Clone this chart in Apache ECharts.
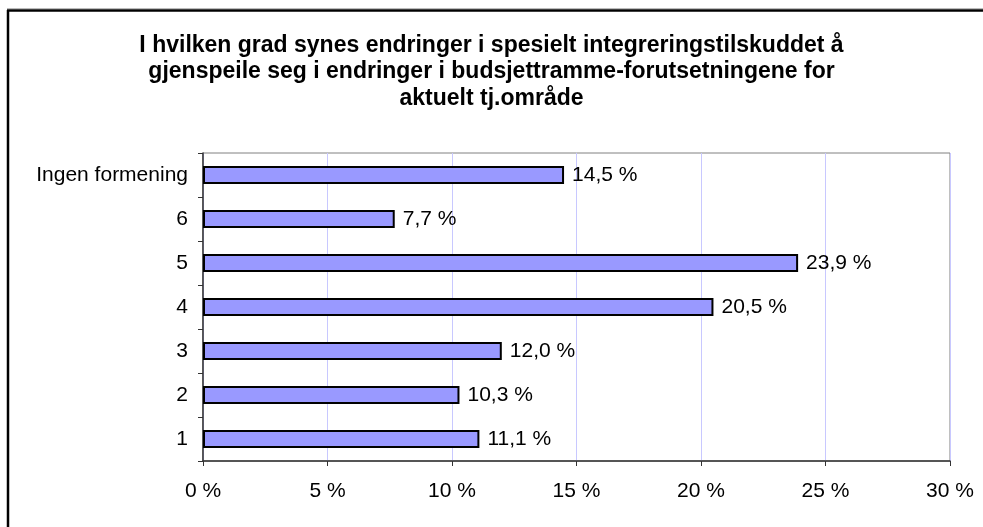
<!DOCTYPE html>
<html>
<head>
<meta charset="utf-8">
<script src="https://cdn.jsdelivr.net/npm/echarts@6/dist/echarts.min.js"></script>
<style>
    html, body { margin: 0; padding: 0; background: #fff; }
    #chart { width: 983px; height: 527px; }
</style>
</head>
<body>
<div id="chart"></div>
<script>
    // svar per kategori (andel i prosent)
    var categories = ['1', '2', '3', '4', '5', '6', 'Ingen formening'];
    var values = [11.1, 10.3, 12.0, 20.5, 23.9, 7.7, 14.5];
    var xTicks = [0, 5, 10, 15, 20, 25, 30];

    var titleText = 'I hvilken grad synes endringer i spesielt integreringstilskuddet å\n' +
        'gjenspeile seg i endringer i budsjettramme-forutsetningene for\n' +
        'aktuelt tj.område';

    var font = "'Liberation Sans', Arial, sans-serif";

    function pct(v) {
        return v.toFixed(1).replace('.', ',') + ' %';
    }

    var chart = echarts.init(document.getElementById('chart'));
    chart.setOption({
        animation: false,
        backgroundColor: '#fff',
        title: {
            text: titleText,
            left: 'center',
            top: 27,
            textStyle: {
                fontFamily: font,
                fontSize: 23,
                fontWeight: 'bold',
                color: '#000',
                lineHeight: 26.5,
                align: 'center'
            }
        },
        graphic: [
            { type: 'line', shape: { x1: 7, y1: 8.5, x2: 983, y2: 8.5 }, style: { stroke: '#bbb', lineWidth: 1 } },
            { type: 'line', shape: { x1: 7, y1: 10.5, x2: 983, y2: 10.5 }, style: { stroke: '#000', lineWidth: 2.5 } },
            { type: 'line', shape: { x1: 8, y1: 10, x2: 8, y2: 527 }, style: { stroke: '#000', lineWidth: 2.5 } }
        ],
        grid: {
            left: 203,
            top: 153,
            right: 33,
            bottom: 66,
            show: true,
            borderColor: '#808080',
            borderWidth: 1
        },
        xAxis: {
            type: 'value',
            min: xTicks[0],
            max: xTicks[xTicks.length - 1],
            interval: 5,
            axisLine: { show: true, lineStyle: { color: '#333', width: 1.5 } },
            axisTick: { show: true, length: 5, lineStyle: { color: '#333' } },
            splitLine: { show: true, lineStyle: { color: '#c8c8ff', width: 1 } },
            axisLabel: {
                margin: 20,
                fontFamily: font,
                fontSize: 21,
                color: '#000',
                formatter: function (v) { return v + ' %'; }
            }
        },
        yAxis: {
            type: 'category',
            data: categories,
            axisLine: { show: true, lineStyle: { color: '#333', width: 1.5 } },
            axisTick: { show: true, length: 5, alignWithLabel: false, lineStyle: { color: '#333' } },
            splitLine: { show: false },
            axisLabel: {
                margin: 15,
                fontFamily: font,
                fontSize: 21,
                color: '#000'
            }
        },
        series: [{
            type: 'bar',
            data: values,
            barWidth: 18,
            itemStyle: {
                color: '#9999ff',
                borderColor: '#000',
                borderWidth: 2
            },
            label: {
                show: true,
                position: 'right',
                distance: 8,
                fontFamily: font,
                fontSize: 21,
                color: '#000',
                formatter: function (p) { return pct(p.value); }
            }
        }]
    });
</script>
</body>
</html>
